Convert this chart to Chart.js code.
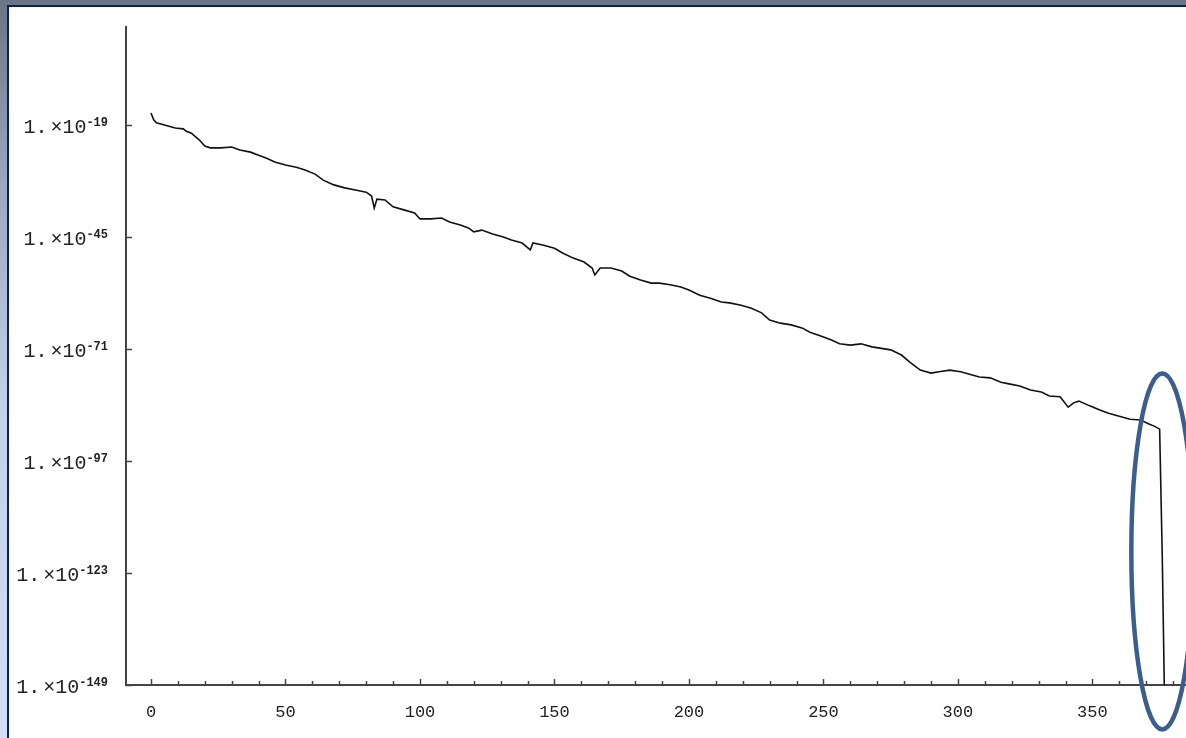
<!DOCTYPE html>
<html>
<head>
<meta charset="utf-8">
<script src="https://cdn.jsdelivr.net/npm/chart.js@4/dist/chart.umd.min.js"></script>
<style>
  html, body { margin: 0; padding: 0; }
  body {
    width: 1186px; height: 738px; overflow: hidden; position: relative;
    background: linear-gradient(to bottom, #6c7587 0%, #9aa7bd 25%, #c3d0ea 55%, #d2def4 100%);
  }
  #panel {
    position: absolute; left: 7px; top: 5px; width: 1200px; height: 760px;
    background: #fff; border: 2px solid #0b215e;
  }
  #chart { position: absolute; left: 0; top: 0; }
</style>
</head>
<body>
<div id="panel"></div>
<canvas id="chart" width="1186" height="738"></canvas>
<script>
// Data: x index and log10 of the plotted value
var xValues = [0, 1, 2, 5, 9, 12, 13, 15, 18, 20, 22, 26, 30, 33, 37, 40, 43, 46, 50, 54,
  57, 61, 64, 68, 72, 76, 80, 82, 83, 84, 87, 90, 94, 98, 100, 104, 108, 111, 115, 118,
  120, 123, 127, 131, 134, 138, 141, 142, 146, 150, 153, 157, 161, 164, 165, 167, 171, 175, 178, 182,
  186, 189, 193, 197, 200, 204, 208, 212, 215, 219, 223, 227, 230, 234, 238, 242, 245, 249, 253, 256,
  260, 264, 268, 271, 275, 279, 282, 286, 290, 293, 297, 301, 305, 308, 312, 316, 319, 323, 327, 331,
  334, 338, 341, 343, 345, 349, 353, 356, 360, 364, 368, 371, 373, 375, 376, 377];
var log10Values = [-16.2, -17.8, -18.5, -19.0, -19.7, -19.9, -20.4, -20.9, -22.5, -23.9, -24.3, -24.3, -24.1, -24.8, -25.3, -26.0, -26.7, -27.6, -28.3, -28.8,
  -29.4, -30.4, -31.8, -32.9, -33.6, -34.1, -34.6, -35.5, -38.3, -36.2, -36.4, -38.0, -38.7, -39.4, -40.8, -40.8, -40.6, -41.5, -42.2, -42.9,
  -43.8, -43.4, -44.3, -45.0, -45.7, -46.4, -48.0, -46.4, -46.9, -47.6, -48.7, -49.9, -50.8, -52.2, -53.8, -52.2, -52.2, -52.9, -54.1, -55.0,
  -55.7, -55.7, -56.1, -56.6, -57.3, -58.5, -59.2, -60.1, -60.3, -60.8, -61.5, -62.6, -64.3, -65.0, -65.4, -66.1, -67.1, -68.0, -68.9, -69.8,
  -70.1, -69.8, -70.5, -70.8, -71.2, -72.4, -74.0, -75.9, -76.6, -76.3, -75.9, -76.3, -77.0, -77.5, -77.7, -78.7, -79.1, -79.6, -80.5, -81.0,
  -81.9, -82.1, -84.5, -83.5, -83.1, -84.2, -85.2, -85.9, -86.6, -87.3, -87.5, -88.4, -88.9, -89.6, -120.0, -160.0];

var xTicks = [0, 50, 100, 150, 200, 250, 300, 350];
var yTickExponents = [-19, -45, -71, -97, -123, -149];

var points = xValues.map(function (x, i) { return { x: x, y: log10Values[i] }; });

// inward ticks, y labels with a real superscript, and the ellipse marking the drop
var decorPlugin = {
  id: 'decor',
  afterDraw: function (chart) {
    var ctx = chart.ctx;
    var xs = chart.scales.x, ys = chart.scales.y;
    var area = chart.chartArea;
    ctx.save();
    ctx.strokeStyle = '#444';
    ctx.lineWidth = 1.5;
    for (var v = 0; v <= 380; v += 10) {
      var px = Math.round(xs.getPixelForValue(v)) + 0.5;
      var len = v % 50 === 0 ? 6 : 4;
      ctx.beginPath();
      ctx.moveTo(px, area.bottom);
      ctx.lineTo(px, area.bottom - len);
      ctx.stroke();
    }
    ctx.fillStyle = '#222';
    yTickExponents.forEach(function (e) {
      var py = Math.round(ys.getPixelForValue(e)) + 0.5;
      ctx.beginPath();
      ctx.moveTo(area.left, py);
      ctx.lineTo(area.left + 6, py);
      ctx.stroke();

      var right = area.left - 18;
      ctx.textBaseline = 'alphabetic';
      ctx.textAlign = 'right';
      ctx.font = 'bold 12px "Liberation Mono"';
      ctx.fillText(String(e), right, py + 0.5);
      var expW = ctx.measureText(String(e)).width;
      ctx.font = '20px "Liberation Mono"';
      ctx.fillText('\u00D710', right - expW, py + 7);
      var baseW = ctx.measureText('\u00D710').width;
      ctx.fillText('1.', right - expW - baseW - 3, py + 7);
    });
    // annotation ellipse
    var cx = xs.getPixelForValue(376);
    var cy = ys.getPixelForValue(-118);
    ctx.strokeStyle = '#3a5f8f';
    ctx.lineWidth = 4.5;
    ctx.beginPath();
    ctx.ellipse(cx, cy, 31, 178, 0, 0, Math.PI * 2);
    ctx.stroke();
    ctx.restore();
  }
};

var chartConfig = {
  type: 'scatter',
  data: {
    datasets: [{
      data: points,
      showLine: true,
      borderColor: '#111',
      borderWidth: 1.6,
      pointRadius: 0,
      tension: 0
    }]
  },
  options: {
    responsive: false,
    animation: false,
    layout: { padding: { top: 27, right: 0, left: 0, bottom: 0 } },
    plugins: { legend: { display: false }, tooltip: { enabled: false } },
    scales: {
      x: {
        type: 'linear',
        min: -9.3,
        max: 384.8,
        grid: { display: false, drawTicks: false },
        border: { color: '#444', width: 2 },
        afterBuildTicks: function (scale) {
          scale.ticks = xTicks.map(function (v) { return { value: v }; });
        },
        afterFit: function (scale) { scale.height = 53; },
        ticks: {
          maxRotation: 0,
          autoSkip: false,
          padding: 17,
          color: '#222',
          font: { family: 'Liberation Mono', size: 17 },
          callback: function (v) { return String(v); }
        }
      },
      y: {
        type: 'linear',
        min: -149,
        max: 3.75,
        grid: { display: false, drawTicks: false },
        border: { color: '#444', width: 2 },
        afterBuildTicks: function (scale) {
          scale.ticks = yTickExponents.map(function (v) { return { value: v }; });
        },
        afterFit: function (scale) { scale.width = 126; },
        ticks: { display: false }
      }
    }
  },
  plugins: [decorPlugin]
};

var decayChart = new Chart(document.getElementById('chart'), chartConfig);
</script>
</body>
</html>
